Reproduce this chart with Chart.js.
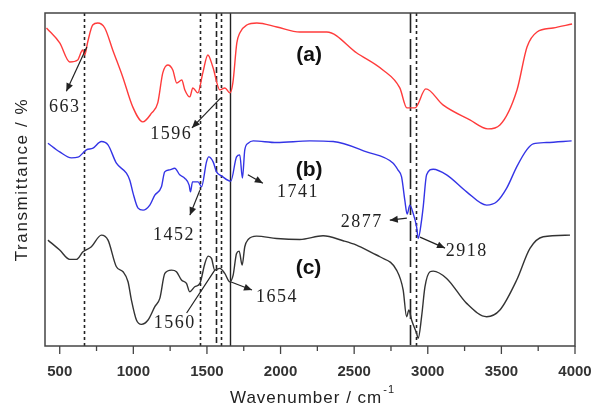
<!DOCTYPE html>
<html>
<head>
<meta charset="utf-8">
<script src="https://cdn.jsdelivr.net/npm/chart.js@4.4.1/dist/chart.umd.min.js"></script>
<style>
  html, body { margin: 0; padding: 0; background: #fff; }
</style>
</head>
<body>
<canvas id="ftir" width="592" height="412"></canvas>
<script>
// spectrum (a)
var waveA = [410, 500, 568, 622, 656, 670, 690, 724, 758, 806, 860, 928, 996, 1064, 1125, 1166, 1200, 1234, 1268, 1295, 1329, 1350, 1384, 1404, 1438, 1472, 1506, 1540, 1588, 1622, 1656, 1676, 1703, 1723, 1771, 1839, 1975, 2131, 2314, 2518, 2695, 2810, 2858, 2913, 2987, 3103, 3286, 3408, 3490, 3606, 3674, 3742, 3851, 3980];
var transA = [95.5, 91.0, 85.3, 85.9, 88.9, 87.4, 91.3, 96.4, 97.0, 95.5, 88.9, 80.8, 71.8, 67.3, 70.0, 73.0, 82.0, 84.4, 82.9, 79.0, 79.9, 76.9, 74.8, 77.5, 76.0, 82.0, 87.4, 83.8, 76.9, 77.5, 76.0, 79.0, 91.0, 94.0, 96.4, 97.0, 95.8, 94.3, 94.3, 88.0, 82.9, 77.5, 71.5, 71.5, 77.2, 72.4, 67.9, 65.2, 66.4, 76.9, 89.8, 94.3, 95.5, 96.7];

// spectrum (b)
var waveB = [420, 500, 579, 624, 681, 726, 783, 828, 885, 953, 976, 998, 1032, 1066, 1112, 1146, 1191, 1213, 1247, 1281, 1315, 1349, 1379, 1388, 1402, 1440, 1463, 1497, 1512, 1542, 1565, 1599, 1662, 1701, 1723, 1741, 1757, 1780, 1814, 1973, 2199, 2357, 2584, 2765, 2797, 2822, 2844, 2860, 2878, 2901, 2924, 2935, 2958, 2969, 2992, 3037, 3128, 3264, 3400, 3468, 3536, 3604, 3672, 3716, 3807, 3977];
var transB = [60.9, 58.3, 56.5, 56.7, 58.9, 59.4, 61.4, 60.4, 54.9, 51.9, 49.8, 45.9, 41.4, 40.8, 42.3, 45.3, 47.8, 52.3, 52.9, 53.4, 51.4, 50.4, 48.3, 46.3, 49.3, 49.3, 47.8, 55.3, 56.8, 55.3, 52.3, 51.1, 49.5, 56.8, 57.4, 50.4, 58.9, 60.9, 61.6, 61.1, 61.6, 61.4, 58.3, 54.9, 52.9, 50.8, 43.8, 39.6, 42.3, 39.8, 35.8, 32.3, 37.8, 41.8, 51.4, 53.1, 51.4, 46.3, 42.3, 43.3, 47.4, 53.8, 58.9, 60.7, 61.1, 61.6];

// spectrum (c)
var waveC = [420, 500, 568, 613, 658, 715, 783, 828, 885, 930, 964, 987, 1021, 1055, 1100, 1146, 1180, 1214, 1259, 1293, 1327, 1361, 1383, 1417, 1452, 1486, 1508, 1531, 1553, 1587, 1621, 1655, 1678, 1701, 1719, 1739, 1757, 1780, 1837, 1973, 2131, 2289, 2425, 2516, 2629, 2675, 2788, 2833, 2856, 2872, 2890, 2924, 2935, 2958, 2981, 3015, 3037, 3128, 3264, 3400, 3490, 3604, 3694, 3784, 3966];
var transC = [31.8, 28.8, 26.0, 26.0, 28.3, 29.8, 33.3, 31.8, 23.8, 22.3, 19.3, 13.8, 7.8, 6.5, 7.8, 11.8, 14.3, 21.8, 22.8, 22.3, 19.8, 18.8, 16.3, 17.8, 18.8, 24.8, 27.0, 26.3, 22.8, 23.3, 21.8, 19.3, 21.3, 27.8, 28.5, 24.3, 29.8, 32.0, 33.0, 32.3, 32.0, 33.1, 31.6, 30.3, 27.8, 26.8, 22.8, 16.8, 8.8, 10.8, 7.8, 3.8, 2.3, 8.8, 17.8, 22.3, 22.5, 20.3, 12.8, 8.8, 10.8, 19.8, 29.3, 32.8, 33.3];

var xTicks = [500, 1000, 1500, 2000, 2500, 3000, 3500, 4000];
var xMinorTicks = [750, 1250, 1750, 2250, 2750, 3250, 3750];

// marked bands (cm-1)
var bands = [663, 1452, 1560, 1596, 1654, 2877, 2918];

// line style per band
var bandDash = {
  663: [3, 3], 1452: [3, 3], 1560: [6, 3], 1596: [3, 3],
  1654: [], 2877: [20, 6], 2918: [3, 3]
};

// callouts in data units: text position, arrow tail, arrow head
var callouts = [
  { text: '663',  tx: 534,  ty: 71.7, x0: 684,  y0: 89.8, x1: 545,  y1: 76.5, head: true },
  { text: '1596', tx: 1258, ty: 63.7, x0: 1594, y0: 74.5, x1: 1398, y1: 65.5, head: true },
  { text: '1452', tx: 1276, ty: 33.3, x0: 1452, y0: 46.8, x1: 1384, y1: 39.3, head: true },
  { text: '1741', tx: 2118, ty: 46.2, x0: 1778, y0: 51.4, x1: 1880, y1: 48.9, head: true },
  { text: '2877', tx: 2552, ty: 37.1, x0: 2858, y0: 38.4, x1: 2742, y1: 37.8, head: true },
  { text: '2918', tx: 3265, ty: 28.5, x0: 2947, y0: 32.7, x1: 3117, y1: 29.4, head: true },
  { text: '1654', tx: 1976, ty: 14.7, x0: 1664, y0: 19.2, x1: 1806, y1: 16.8, head: true },
  { text: '1560', tx: 1281, ty: 6.9,  x0: 1553, y0: 22.8, x1: 1362, y1: 9.9,  head: false }
];

var seriesTags = [
  { text: '(a)', tx: 2194, ty: 87.4 },
  { text: '(b)', tx: 2194, ty: 52.9 },
  { text: '(c)', tx: 2190, ty: 23.3 }
];

function points(xs, ys) {
  return xs.map(function (x, i) { return { x: x, y: ys[i] }; });
}

function arrow(ctx, ax, ay, bx, by, head) {
  ctx.beginPath();
  ctx.moveTo(ax, ay);
  ctx.lineTo(bx, by);
  ctx.stroke();
  if (!head) return;
  var ang = Math.atan2(by - ay, bx - ax);
  var len = 8, half = 3.5;
  ctx.beginPath();
  ctx.moveTo(bx, by);
  ctx.lineTo(bx - len * Math.cos(ang) + half * Math.sin(ang), by - len * Math.sin(ang) - half * Math.cos(ang));
  ctx.lineTo(bx - len * Math.cos(ang) - half * Math.sin(ang), by - len * Math.sin(ang) + half * Math.cos(ang));
  ctx.closePath();
  ctx.fill();
}

var bandLinesPlugin = {
  id: 'bandLines',
  beforeDatasetsDraw: function (chart) {
    var ctx = chart.ctx, area = chart.chartArea, xs = chart.scales.x;
    ctx.save();
    ctx.strokeStyle = '#222';
    bands.forEach(function (b) {
      var px = Math.round(xs.getPixelForValue(b)) + 0.5;
      ctx.lineWidth = bandDash[b].length ? 1.6 : 1.4;
      ctx.setLineDash(bandDash[b]);
      ctx.beginPath();
      ctx.moveTo(px, area.top);
      ctx.lineTo(px, area.bottom);
      ctx.stroke();
    });
    ctx.restore();
  }
};

var framePlugin = {
  id: 'frame',
  afterDraw: function (chart) {
    var ctx = chart.ctx, area = chart.chartArea, xs = chart.scales.x, ys = chart.scales.y;
    ctx.save();

    // box around the plot
    ctx.strokeStyle = '#444';
    ctx.lineWidth = 1.5;
    ctx.strokeRect(area.left, area.top, area.right - area.left, area.bottom - area.top);

    // outward tick marks
    ctx.lineWidth = 1.3;
    xTicks.forEach(function (v) {
      var px = xs.getPixelForValue(v);
      ctx.beginPath(); ctx.moveTo(px, area.bottom); ctx.lineTo(px, area.bottom + 8); ctx.stroke();
    });
    xMinorTicks.forEach(function (v) {
      var px = xs.getPixelForValue(v);
      ctx.beginPath(); ctx.moveTo(px, area.bottom); ctx.lineTo(px, area.bottom + 5); ctx.stroke();
    });

    // axis titles
    ctx.fillStyle = '#222';
    ctx.textBaseline = 'middle';
    ctx.letterSpacing = '1px';
    var main = 'Wavenumber / cm';
    ctx.font = '17px "Liberation Sans", Arial, sans-serif';
    var w1 = ctx.measureText(main).width;
    ctx.font = '11px "Liberation Sans", Arial, sans-serif';
    var w2 = ctx.measureText('-1').width;
    var cx = (area.left + area.right) / 2 + 2;
    var startX = cx - (w1 + w2) / 2;
    ctx.textAlign = 'left';
    ctx.font = '17px "Liberation Sans", Arial, sans-serif';
    ctx.fillText(main, startX, 398);
    ctx.font = '11px "Liberation Sans", Arial, sans-serif';
    ctx.fillText('-1', startX + w1 + 1, 390);

    ctx.save();
    ctx.translate(22, (area.top + area.bottom) / 2);
    ctx.rotate(-Math.PI / 2);
    ctx.textAlign = 'center';
    ctx.letterSpacing = '1.6px';
    ctx.font = '17px "Liberation Sans", Arial, sans-serif';
    ctx.fillText('Transmittance / %', 0, 0);
    ctx.restore();

    // series tags
    ctx.letterSpacing = '0px';
    ctx.textAlign = 'center';
    ctx.font = 'bold 21px "Liberation Sans", Arial, sans-serif';
    ctx.fillStyle = '#111';
    seriesTags.forEach(function (t) {
      ctx.fillText(t.text, xs.getPixelForValue(t.tx), ys.getPixelForValue(t.ty));
    });

    // band callouts
    ctx.font = '18px "Liberation Serif", "Times New Roman", serif';
    ctx.letterSpacing = '1.5px';
    ctx.strokeStyle = '#222';
    ctx.fillStyle = '#222';
    ctx.lineWidth = 1.2;
    callouts.forEach(function (c) {
      arrow(ctx, xs.getPixelForValue(c.x0), ys.getPixelForValue(c.y0),
        xs.getPixelForValue(c.x1), ys.getPixelForValue(c.y1), c.head);
      ctx.fillText(c.text, xs.getPixelForValue(c.tx), ys.getPixelForValue(c.ty));
    });
    ctx.restore();
  }
};

new Chart(document.getElementById('ftir'), {
  type: 'line',
  data: {
    datasets: [
      { label: '(a)', data: points(waveA, transA), borderColor: '#ff3b3b' },
      { label: '(b)', data: points(waveB, transB), borderColor: '#3434e6' },
      { label: '(c)', data: points(waveC, transC), borderColor: '#333333' }
    ]
  },
  options: {
    responsive: false,
    animation: false,
    devicePixelRatio: 1,
    layout: { padding: { left: 0, right: 0, top: 13, bottom: 0 } },
    elements: {
      line: { borderWidth: 1.4, cubicInterpolationMode: 'monotone', fill: false },
      point: { radius: 0 }
    },
    plugins: {
      legend: { display: false },
      tooltip: { enabled: false }
    },
    scales: {
      x: {
        type: 'linear',
        min: 400,
        max: 4000,
        grid: { display: false },
        border: { display: false },
        afterBuildTicks: function (s) { s.ticks = xTicks.map(function (v) { return { value: v }; }); },
        afterFit: function (s) { s.height = 66; s.paddingLeft = 0; s.paddingRight = 17; },
        ticks: {
          padding: 9,
          maxRotation: 0,
          autoSkip: false,
          color: '#333',
          callback: function (v) { return String(v); },
          font: { family: '"Liberation Sans", Arial, sans-serif', size: 15, weight: 'bold' }
        }
      },
      y: {
        min: 0,
        max: 100,
        grid: { display: false },
        border: { display: false },
        ticks: { display: false },
        afterFit: function (s) { s.width = 45; }
      }
    }
  },
  plugins: [bandLinesPlugin, framePlugin]
});
</script>
</body>
</html>
